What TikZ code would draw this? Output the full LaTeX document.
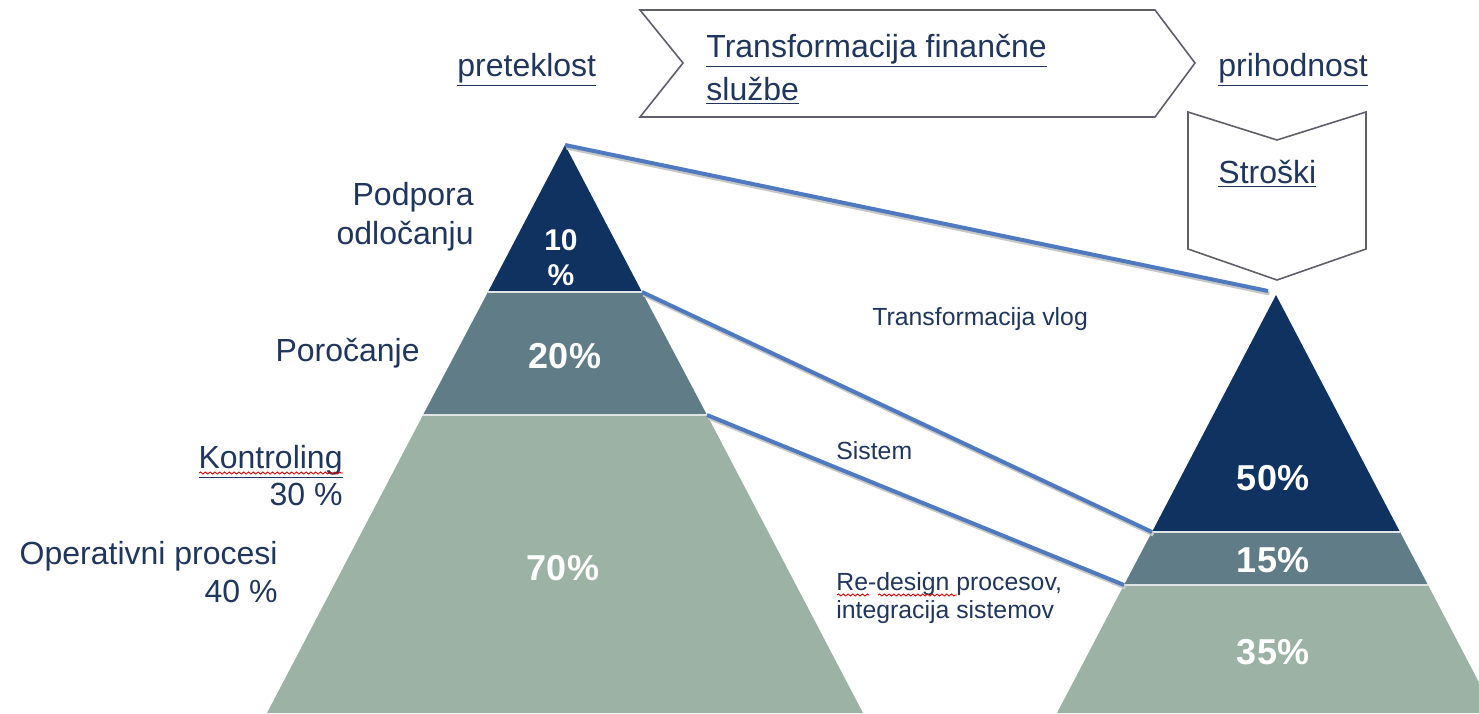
\documentclass[tikz,border=0pt]{standalone}
\usepackage{fontspec}
\setmainfont{Liberation Sans}
\usetikzlibrary{decorations.pathmorphing}

\definecolor{navy}{RGB}{16,50,96}
\definecolor{slate}{RGB}{96,125,135}
\definecolor{sage}{RGB}{155,178,165}
\definecolor{ink}{RGB}{32,54,92}
\definecolor{linkblue}{RGB}{79,122,192}
\definecolor{frame}{RGB}{95,95,105}

\tikzset{
  lbl/.style={text=ink, font=\fontsize{16}{19}\selectfont, inner sep=0pt},
  small/.style={text=ink, font=\fontsize{12.4}{14}\selectfont, inner sep=0pt},
  pct/.style={text=white, font=\bfseries\fontsize{18}{18}\selectfont, inner sep=0pt},
  link/.style={linkblue, line width=2pt},
  linkshadow/.style={black!22, line width=2pt},
  band/.style={draw=white!80!slate, line width=0.6pt},
  outline/.style={draw=frame, line width=0.8pt},
  squiggle/.style={red!85!black, line width=0.45pt, decorate,
    decoration={snake, amplitude=0.5pt, segment length=2.4pt}},
}

\begin{document}
\begin{tikzpicture}[x=0.5pt,y=-0.5pt]
  \useasboundingbox (0,0) rectangle (1479,713);
  % corners of the two pyramids
  \coordinate (ltop) at (565,145);
  \coordinate (l1l) at (488,292);
  \coordinate (l1r) at (642,292);
  \coordinate (l2l) at (423,415);
  \coordinate (l2r) at (707,415);
  \coordinate (lbl) at (267,713);
  \coordinate (lbr) at (863,713);
  \coordinate (rtop) at (1276,295);
  \coordinate (r1l) at (1152,532);
  \coordinate (r1r) at (1400,532);
  \coordinate (r2l) at (1124,585);
  \coordinate (r2r) at (1428,585);
  \coordinate (rbl) at (1057,713);
  \coordinate (rbr) at (1495,713);
  \coordinate (rend) at (1268,291);

  \begin{scope}
    \clip (0,0) rectangle (1479,713);
    % past
    \fill[navy] (ltop) -- (l1r) -- (l1l) -- cycle;
    \fill[slate] (l1l) -- (l1r) -- (l2r) -- (l2l) -- cycle;
    \fill[sage] (l2l) -- (l2r) -- (lbr) -- (lbl) -- cycle;
    \draw[band] (l1l) -- (l1r);
    \draw[band] (l2l) -- (l2r);
    % future
    \fill[navy] (rtop) -- (r1r) -- (r1l) -- cycle;
    \fill[slate] (r1l) -- (r1r) -- (r2r) -- (r2l) -- cycle;
    \fill[sage] (r2l) -- (r2r) -- (rbr) -- (rbl) -- cycle;
    \draw[band] (r1l) -- (r1r);
    \draw[band] (r2l) -- (r2r);
  \end{scope}

  % chevron and cost arrow
  \draw[outline] (640,10) -- (1155,10) -- (1195,63) -- (1155,117) -- (640,117) -- (683,63) -- cycle;
  \draw[outline] (1188,112) -- (1277,140) -- (1366,112) -- (1366,249) -- (1277,280) -- (1188,249) -- cycle;

  % connecting lines
  \draw[linkshadow] ([shift={(1.5,2.5)}]ltop) -- ([shift={(1.5,2.5)}]rend);
  \draw[linkshadow] ([shift={(1.5,2.5)}]l1r) -- ([shift={(1.5,2.5)}]r1l);
  \draw[linkshadow] ([shift={(1.5,2.5)}]l2r) -- ([shift={(1.5,2.5)}]r2l);
  \draw[link] (ltop) -- (rend);
  \draw[link] (l1r) -- (r1l);
  \draw[link] (l2r) -- (r2l);

  % headings
  \node[lbl, anchor=base west] (past) at (457,76) {\underline{preteklost}};
  \node[lbl, anchor=base west] (future) at (1218,76) {\underline{prihodnost}};
  \node[lbl, anchor=base west] (trans1) at (706,57) {\underline{Transformacija finančne}};
  \node[lbl, anchor=base west] (trans2) at (706,100) {\underline{službe}};
  \node[lbl, anchor=base west] (cost) at (1218,183) {\underline{Stroški}};

  % left labels
  \node[lbl, anchor=base east] (podpora1) at (474,205) {Podpora};
  \node[lbl, anchor=base east] (podpora2) at (474,244) {odločanju};
  \node[lbl, anchor=base east] (porocanje) at (420,361) {Poročanje};
  \node[lbl, anchor=base east] (kontr1) at (343,468) {\underline{Kontroling}};
  \node[lbl, anchor=base east] (kontr2) at (343,505) {30 \%};
  \node[lbl, anchor=base east] (oper1) at (278,564) {Operativni procesi};
  \node[lbl, anchor=base east] (oper2) at (278,602) {40 \%};
  \draw[squiggle] (199,473) -- (343,473);

  % shares
  \node[pct, font=\bfseries\fontsize{15}{15}\selectfont] (p10a) at (561,240) {10};
  \node[pct, font=\bfseries\fontsize{15}{15}\selectfont] (p10b) at (561,275) {\%};
  \node[pct] (p20) at (565,356) {20\%};
  \node[pct] (p70) at (563,568) {70\%};
  \node[pct] (p50) at (1273,478) {50\%};
  \node[pct] (p15) at (1273,560) {15\%};
  \node[pct] (p35) at (1273,652) {35\%};

  % middle notes
  \node[small, anchor=base west] (vlog) at (872,325) {Transformacija vlog};
  \node[small, anchor=base west] (sistem) at (836,459) {Sistem};
  \node[small, anchor=base west] (redes1) at (836,590) {Re-design procesov,};
  \node[small, anchor=base west] (redes2) at (836,618) {integracija sistemov};
  \draw[squiggle] (837,595) -- (869,595);
  \draw[squiggle] (878,595) -- (957,595);
\end{tikzpicture}
\end{document}
